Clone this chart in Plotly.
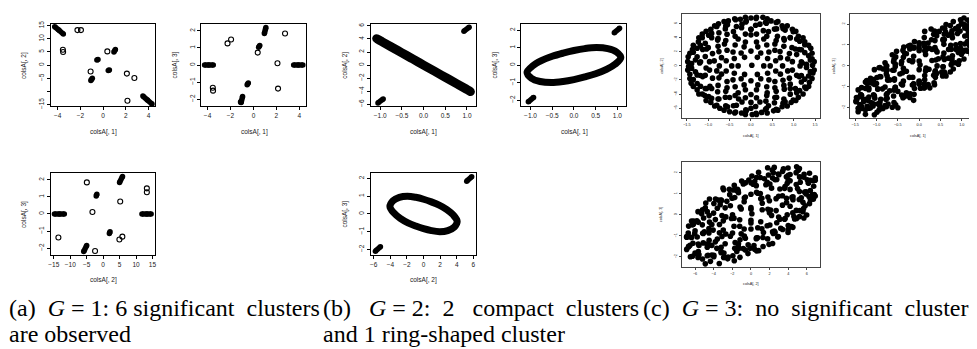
import plotly.graph_objects as go

W, H = 977, 349

# ---------------- data: panel (a)  G = 1 ----------------
# dense clusters (each list = one cluster), coordinates colsA[,1], colsA[,2], colsA[,3]
A_CL_X1 = [[-4.26, -3.9, -3.5], [3.5, 3.9, 4.3], [0.95, 1.08], [-0.95, -1.08], [0.45, 0.55], [-0.45, -0.55]]
A_CL_X2 = [[14.6, 13.3, 11.8], [-11.8, -13.3, -14.8], [5.0, 5.9], [-5.0, -5.9], [-2.1, -1.9], [2.1, 1.9]]
A_CL_X3 = [[0.0, 0.0, 0.0], [0.0, 0.0, 0.0], [1.85, 2.2], [-1.85, -2.2], [1.05, 1.15], [-1.05, -1.15]]
# isolated points
A_OUT_X1 = [-2.26, -1.95, -3.54, -3.52, 0.37, 2.75, 2.09, 2.14, -1.10]
A_OUT_X2 = [13.3, 13.3, 5.85, 4.95, 5.2, -4.95, -3.25, -13.6, -2.45]
A_OUT_X3 = [1.27, 1.50, -1.33, -1.50, 0.73, 1.85, 0.11, -1.38, -2.17]

# ---------------- data: panel (b)  G = 2 ----------------
B_CL_X1 = [[0.93, 1.05], [-0.93, -1.05]]
B_CL_X2 = [[5.2, 5.8], [-5.2, -5.8]]
B_CL_X3 = [[1.85, 2.1], [-1.85, -2.1]]
B_RING_X1 = [1.08, 0.98, 0.78, 0.52, 0.25, 0.0, -0.25, -0.5, -0.75, -0.95, -1.08,
             -0.98, -0.78, -0.52, -0.25, 0.0, 0.25, 0.5, 0.75, 0.95, 1.08]
B_RING_X2 = [-4.05, -3.68, -2.92, -1.95, -0.94, 0.0, 0.94, 1.88, 2.81, 3.56, 4.05,
             3.68, 2.92, 1.95, 0.94, 0.0, -0.94, -1.88, -2.81, -3.56, -4.05]
B_RING_X3 = [0.42, 0.75, 0.94, 1.0, 0.94, 0.83, 0.68, 0.5, 0.25, -0.05, -0.42,
             -0.75, -0.94, -1.0, -0.94, -0.83, -0.68, -0.5, -0.25, 0.05, 0.42]

# ---------------- data: panel (c)  G = 3 (point cloud, read approximately) ----------------
C_X1 = [1.44, 1.43, 1.40, 1.26, 1.11, 0.97, 0.73, 0.47, 0.28, 0.00, -0.25, -0.53, -0.76, -0.94, -1.14, -1.23, -1.37, -1.47,
        -1.46, -1.43, -1.40, -1.26, -1.08, -0.94, -0.73, -0.50, -0.22, 0.03, 0.25, 0.53, 0.73, 0.94, 1.11, 1.29, 1.37, 1.45,
        1.39, 1.35, 1.26, 1.14, 0.99, 0.80, 0.59, 0.36, 0.12, -0.12, -0.36, -0.59, -0.80, -0.99, -1.14, -1.26, -1.35, -1.39,
        -1.39, -1.35, -1.26, -1.14, -0.99, -0.80, -0.59, -0.36, -0.12, 0.12, 0.36, 0.59, 0.80, 0.99, 1.14, 1.26, 1.35, 1.39,
        1.30, 1.26, 1.18, 1.07, 0.92, 0.75, 0.55, 0.34, 0.11, -0.11, -0.34, -0.55, -0.75, -0.92, -1.07, -1.18, -1.26, -1.30,
        -1.30, -1.26, -1.18, -1.07, -0.92, -0.75, -0.55, -0.34, -0.11, 0.11, 0.34, 0.55, 0.75, 0.92, 1.07, 1.18, 1.26, 1.30,
        1.15, 1.07, 0.96, 0.78, 0.62, 0.29, 0.00, -0.22, -0.56, -0.78, -1.00, -1.07, -1.05, -1.07, -0.96, -0.78, -0.50, -0.29,
        0.00, 0.35, 0.56, 0.78, 0.92, 1.07,
        0.86, 0.68, 0.56, 0.30, 0.00, -0.30, -0.62, -0.75, -0.86, -0.80, -0.75, -0.56, -0.30, 0.00, 0.38, 0.56, 0.75, 0.86,
        0.58, 0.42, 0.16, -0.16, -0.42, -0.58, -0.58, -0.42, -0.16, 0.16, 0.42, 0.58,
        0.30, 0.15, -0.15, -0.30, -0.15, 0.15, 0.02,
        1.48, 1.43, 1.35, 1.22, 1.05, 0.85, 0.63, 0.38, 0.13, -0.13, -0.38, -0.63, -0.85, -1.05, -1.22, -1.35, -1.43, -1.48,
        -1.48, -1.43, -1.35, -1.22, -1.05, -0.85, -0.63, -0.38, -0.13, 0.13, 0.38, 0.63, 0.85, 1.05, 1.22, 1.35, 1.43, 1.48,
        1.20, 1.18, 1.13, 1.04, 0.92, 0.77, 0.60, 0.41, 0.21, 0.00, -0.21, -0.41, -0.60, -0.77, -0.92, -1.04, -1.13, -1.18,
        -1.20, -1.18, -1.13, -1.04, -0.92, -0.77, -0.60, -0.41, -0.21, 0.00, 0.21, 0.41, 0.60, 0.77, 0.92, 1.04, 1.13, 1.18,
        0.97, 0.90, 0.77, 0.59, 0.37, 0.13, -0.13, -0.37, -0.59, -0.77, -0.90, -0.97,
        -0.97, -0.90, -0.77, -0.59, -0.37, -0.13, 0.13, 0.37, 0.59, 0.77, 0.90, 0.97,
        0.74, 0.69, 0.56, 0.37, 0.13, -0.13, -0.37, -0.56, -0.69, -0.74, -0.69, -0.56, -0.37, -0.13, 0.13, 0.37, 0.56, 0.69,
        0.45, 0.39, 0.23, 0.00, -0.23, -0.39, -0.45, -0.39, -0.23, 0.00, 0.23, 0.39]
C_X2 = [0.10, 1.00, 2.50, 3.40, 4.20, 5.20, 5.70, 6.38, 6.90, 6.79, 6.60, 6.38, 5.98, 5.20, 4.50, 3.40, 2.32, 1.30,
        -0.10, -1.18, -2.45, -3.40, -4.20, -5.20, -6.00, -6.50, -6.69, -6.90, -6.60, -6.38, -5.80, -5.20, -4.45, -3.20, -2.32, -1.00,
        0.82, 1.44, 3.00, 3.49, 4.85, 5.08, 6.15, 6.04, 6.73, 6.23, 6.54, 5.65, 5.58, 4.35, 3.99, 2.50, 1.94, 0.32,
        -0.32, -1.94, -2.50, -3.99, -4.35, -5.58, -5.65, -6.54, -6.23, -6.73, -6.04, -6.15, -5.08, -4.85, -3.49, -3.00, -1.44, -0.82,
        0.23, 1.88, 2.28, 3.80, 4.01, 5.29, 5.22, 6.18, 5.77, 6.37, 5.58, 5.82, 4.69, 4.61, 3.20, 2.88, 1.28, 0.83,
        -0.83, -1.28, -2.88, -3.20, -4.61, -4.69, -5.82, -5.58, -6.37, -5.77, -6.18, -5.22, -5.29, -4.01, -3.80, -2.28, -1.88, -0.23,
        0.00, 1.60, 2.59, 3.66, 4.20, 5.00, 5.18, 5.40, 4.49, 3.66, 2.59, 1.34, -0.30, -1.34, -2.90, -3.66, -4.49, -4.70,
        -5.18, -5.00, -4.49, -3.30, -2.59, -1.34,
        1.00, 2.03, 3.11, 3.82, 4.40, 3.82, 3.11, 2.03, 0.71, -0.71, -1.70, -3.11, -3.82, -4.06, -3.82, -3.11, -2.03, -0.71,
        0.73, 1.98, 2.70, 2.70, 1.98, 0.73, -0.73, -1.98, -2.70, -2.70, -1.98, -0.73,
        0.00, 1.21, 1.21, 0.00, -1.21, -1.21, 0.10,
        0.60, 1.79, 2.93, 3.98, 4.90, 5.68, 6.28, 6.69, 6.90, 6.90, 6.69, 6.28, 5.68, 4.90, 3.98, 2.93, 1.79, 0.60,
        -0.60, -1.79, -2.93, -3.98, -4.90, -5.68, -6.28, -6.69, -6.90, -6.90, -6.69, -6.28, -5.68, -4.90, -3.98, -2.93, -1.79, -0.60,
        0.40, 0.57, 2.32, 2.40, 4.00, 3.89, 5.25, 4.86, 5.92, 5.20, 5.92, 4.86, 5.25, 3.89, 4.00, 2.40, 2.32, 0.57,
        0.40, -1.37, -1.52, -3.20, -3.20, -4.69, -4.45, -5.66, -5.12, -6.00, -5.12, -5.66, -4.45, -4.69, -3.20, -3.20, -1.52, -1.37,
        0.60, 1.74, 2.77, 3.61, 4.20, 4.51, 4.51, 4.20, 3.61, 2.77, 1.74, 0.60,
        -0.60, -1.74, -2.77, -3.61, -4.20, -4.51, -4.51, -4.20, -3.61, -2.77, -1.74, -0.60,
        0.00, 1.17, 2.21, 2.97, 3.38, 3.38, 2.97, 2.21, 1.17, 0.00, -1.17, -2.21, -2.97, -3.38, -3.38, -2.97, -2.21, -1.17,
        0.00, 1.05, 1.82, 2.10, 1.82, 1.05, 0.00, -1.05, -1.82, -2.10, -1.82, -1.05]
C_X3 = [1.85, 1.78, 2.26, 2.07, 1.92, 2.21, 1.93, 1.65, 1.76, 0.97, 0.95, 0.70, -0.01, -0.09, -0.60, -0.70, -1.37, -1.51,
        -1.60, -2.03, -2.01, -2.32, -1.92, -2.11, -1.83, -2.00, -1.51, -1.07, -1.05, -0.30, -0.29, 0.24, 0.75, 0.70, 1.22, 1.61,
        2.02, 1.72, 1.91, 2.19, 2.01, 2.12, 1.52, 1.67, 1.36, 0.87, 0.90, 0.30, 0.15, -0.56, -0.70, -0.77, -1.41, -1.47,
        -1.85, -1.95, -2.10, -2.00, -2.22, -1.90, -1.75, -1.45, -1.36, -0.87, -0.90, -0.30, -0.15, 0.56, 0.70, 1.27, 1.21, 1.47,
        1.46, 1.90, 2.13, 1.81, 1.88, 1.55, 1.81, 1.51, 1.08, 1.16, 0.60, 0.43, -0.20, -0.08, -0.65, -1.06, -1.08, -1.71,
        -1.61, -1.60, -2.03, -1.81, -1.93, -1.55, -1.86, -1.46, -1.08, -1.06, -0.45, -0.48, 0.05, 0.08, 0.75, 0.96, 1.18, 1.66,
        1.53, 1.43, 1.67, 1.35, 1.62, 1.25, 0.73, 0.81, 0.09, -0.18, -0.84, -0.85, -1.43, -1.38, -1.82, -1.60, -1.22, -1.40,
        -0.88, -0.81, -0.04, 0.48, 0.64, 1.05,
        1.01, 1.47, 1.23, 0.79, 0.83, 0.58, -0.21, -0.49, -1.10, -1.01, -1.32, -1.03, -1.29, -0.73, -0.23, -0.04, 0.79, 0.80,
        1.03, 0.67, 0.77, 0.20, 0.10, -0.62, -0.68, -0.87, -0.92, -0.10, 0.00, 0.62,
        0.26, 0.55, 0.24, -0.26, -0.55, -0.24, 0.05,
        1.78, 2.24, 1.94, 2.23, 2.29, 1.79, 1.98, 1.62, 1.65, 0.89, 0.74, 0.53, -0.15, -0.18, -0.84, -1.04, -1.15, -1.72,
        -1.68, -2.19, -2.04, -1.93, -2.34, -2.04, -1.98, -1.52, -1.65, -1.04, -0.54, -0.48, 0.15, 0.33, 0.54, 1.19, 1.40, 1.52,
        1.59, 1.39, 1.75, 2.00, 1.65, 1.50, 1.79, 1.44, 1.09, 1.11, 0.99, 0.21, 0.20, 0.00, -0.51, -0.89, -0.81, -1.14,
        -1.64, -1.49, -1.75, -1.55, -1.75, -1.95, -1.44, -1.39, -1.34, -0.76, -0.89, -0.36, -0.35, 0.15, 0.66, 0.69, 1.16, 1.14,
        1.07, 1.55, 1.68, 1.26, 1.21, 0.72, 0.86, 0.41, -0.21, -0.38, -0.52, -1.10,
        -1.12, -1.60, -1.38, -1.16, -1.46, -0.87, -0.66, -0.46, 0.31, 0.33, 0.82, 0.85,
        0.98, 0.79, 1.27, 0.88, 0.91, 0.46, -0.11, -0.03, -0.67, -0.68, -1.19, -1.02, -0.73, -0.86, -0.46, -0.29, 0.43, 0.37,
        0.34, 0.76, 0.85, 0.23, 0.26, -0.33, -0.39, -0.91, -0.55, -0.18, -0.16, 0.28]

# ---------------- tick values / labels ----------------
TICKS_X1_A = [-4, -2, 0, 2, 4]
TICKS_X2_A_VALS = [-15, -10, -5, 0, 5, 10, 15]
TICKS_X2_A_LBL_Y = ["\u221215", "", "\u22125", "0", "5", "10", "15"]
TICKS_X2_A_LBL_X = ["\u221215", "\u221210", "\u22125", "0", "5", "10", "15"]
TICKS_X3_AB = [-2, -1, 0, 1, 2]
TICKS_X1_BC = [-1.5, -1.0, -0.5, 0.0, 0.5, 1.0, 1.5]
TICKS_X2_BC = [-6, -4, -2, 0, 2, 4, 6]

NB = "\u00a0"
CAPTIONS = [
    ("(a) " + NB + "<i>G</i> = 1: 6 significant " + NB + "clusters", "are observed"),
    ("(b) " + NB * 2 + "<i>G</i> = 2: " + NB + "2 " + NB * 2 + "compact " + NB + "clusters",
     "and 1 ring-shaped cluster"),
    ("(c) " + NB + "<i>G</i> = 3: " + NB + "no " + NB + "significant " + NB + "clusters", ""),
]

# ---------------- layout helpers ----------------
SANS = "Liberation Sans, Arial, Helvetica, sans-serif"
SERIF = "Liberation Serif, Times New Roman, serif"

fig = go.Figure()
annotations = []

# subplot boxes in pixels: (left, right, top, bottom)
col_a = [(40, 145), (191, 296.5)]
col_b = [(361.5, 467), (512.5, 618)]
row_ab = [(13, 97), (164.5, 248.5)]
col_c = [(673.3, 812.7), (842.3, 977)]
row_c = [(2.7, 109), (154, 260.7)]


def add_axes(i, box, xr, yr, xt, yt, fs, tl, lc="black", xfmt=None, xtext=None, ytext=None, ymirror=True):
    L, R, T, B = box
    common = dict(showgrid=False, zeroline=False, showline=True, linecolor=lc, linewidth=1,
                  ticks="outside", ticklen=tl, tickwidth=1, tickcolor=lc,
                  tickfont=dict(family=SANS, size=fs, color="#222"), fixedrange=True)
    xa = dict(common, domain=[L / W, R / W], range=xr, anchor=f"y{i}", mirror=True, tickvals=xt)
    ya = dict(common, domain=[1 - B / H, 1 - T / H], range=yr, anchor=f"x{i}", mirror=ymirror,
              tickvals=yt, tickangle=-90)
    if xfmt:
        xa["tickformat"] = xfmt
    if xtext:
        xa["ticktext"] = xtext
    if ytext:
        ya["ticktext"] = ytext
    fig.update_layout({f"xaxis{i}": xa, f"yaxis{i}": ya})


def label(x, y, text, fs, angle=0):
    annotations.append(dict(x=x / W, y=1 - y / H, xref="paper", yref="paper", text=text, showarrow=False,
                            textangle=angle, xanchor="center", yanchor="middle",
                            font=dict(family=SANS, size=fs, color="#222")))


def blob(i, xs, ys, w):
    for cx, cy in zip(xs, ys):
        fig.add_trace(go.Scatter(x=cx, y=cy, mode="lines+markers", xaxis=f"x{i}", yaxis=f"y{i}",
                                 line=dict(color="black", width=w), marker=dict(color="black", size=w),
                                 hoverinfo="skip", showlegend=False))


def pts(i, xs, ys, size, lw, symbol="circle-open"):
    fig.add_trace(go.Scatter(x=xs, y=ys, mode="markers", xaxis=f"x{i}", yaxis=f"y{i}",
                             marker=dict(symbol=symbol, color="black", size=size, line=dict(width=lw, color="black")),
                             hoverinfo="skip", showlegend=False))


def ring(i, xs, ys, w):
    fig.add_trace(go.Scatter(x=xs, y=ys, mode="lines", xaxis=f"x{i}", yaxis=f"y{i}",
                             line=dict(color="black", width=w, shape="spline", smoothing=1.0),
                             hoverinfo="skip", showlegend=False))


# ----- panel (a) -----
b1 = (*col_a[0], *row_ab[0]); b2 = (*col_a[1], *row_ab[0]); b3 = (*col_a[0], *row_ab[1])
add_axes(1, b1, [-4.6, 4.6], [-15.7, 15.7], TICKS_X1_A, TICKS_X2_A_VALS, 6.5, 3, ytext=TICKS_X2_A_LBL_Y)
add_axes(2, b2, [-4.55, 4.6], [-2.42, 2.42], TICKS_X1_A, TICKS_X3_AB, 6.5, 3)
add_axes(3, b3, [-15.9, 15.9], [-2.42, 2.42], TICKS_X2_A_VALS, TICKS_X3_AB, 6.5, 3, xtext=TICKS_X2_A_LBL_X)
blob(1, A_CL_X1, A_CL_X2, 5.5); pts(1, A_OUT_X1, A_OUT_X2, 5, 1.1)
blob(2, A_CL_X1, A_CL_X3, 5.5); pts(2, A_OUT_X1, A_OUT_X3, 5, 1.1)
blob(3, A_CL_X2, A_CL_X3, 5.5); pts(3, A_OUT_X2, A_OUT_X3, 5, 1.1)
label(92.5, 123, "colsA[, 1]", 6.5); label(13, 55, "colsA[, 2]", 6.5, -90)
label(244, 123, "colsA[, 1]", 6.5); label(165, 55, "colsA[, 3]", 6.5, -90)
label(92.5, 273.5, "colsA[, 2]", 6.5); label(13, 206.5, "colsA[, 3]", 6.5, -90)

# ----- panel (b) -----
b4 = (*col_b[0], *row_ab[0]); b5 = (*col_b[1], *row_ab[0]); b6 = (*col_b[0], *row_ab[1])
add_axes(4, b4, [-1.21, 1.21], [-6.33, 6.33], TICKS_X1_BC[1:-1], TICKS_X2_BC, 6.5, 3, xfmt=".1f")
add_axes(5, b5, [-1.21, 1.21], [-2.36, 2.36], TICKS_X1_BC[1:-1], TICKS_X3_AB, 6.5, 3, xfmt=".1f")
add_axes(6, b6, [-6.33, 6.33], [-2.33, 2.33], TICKS_X2_BC, TICKS_X3_AB, 6.5, 3)
ring(4, B_RING_X1, B_RING_X2, 9); blob(4, B_CL_X1, B_CL_X2, 5.5)
ring(5, B_RING_X1, B_RING_X3, 7); blob(5, B_CL_X1, B_CL_X3, 5.5)
ring(6, B_RING_X2, B_RING_X3, 7); blob(6, B_CL_X2, B_CL_X3, 5.5)
label(414, 123, "colsA[, 1]", 6.5); label(335, 55, "colsA[, 2]", 6.5, -90)
label(565.5, 123, "colsA[, 1]", 6.5); label(486.5, 55, "colsA[, 3]", 6.5, -90)
label(414, 274, "colsA[, 2]", 6.5); label(335, 206.5, "colsA[, 3]", 6.5, -90)

# ----- panel (c) -----
b7 = (*col_c[0], *row_c[0]); b8 = (*col_c[1], *row_c[0]); b9 = (*col_c[0], *row_c[1])
CG = "#444"
add_axes(7, b7, [-1.625, 1.625], [-7.41, 7.41], TICKS_X1_BC, TICKS_X2_BC, 3.8, 2, lc=CG, xfmt=".1f")
add_axes(8, b8, [-1.625, 1.52], [-2.5, 2.5], TICKS_X1_BC, TICKS_X3_AB, 3.8, 2, lc=CG, xfmt=".1f", ymirror=False)
add_axes(9, b9, [-7.45, 7.45], [-2.5, 2.5], TICKS_X2_BC, TICKS_X3_AB, 3.8, 2, lc=CG)
pts(7, C_X1, C_X2, 5.6, 0, "circle")
pts(8, C_X1, C_X3, 5.6, 0, "circle")
pts(9, C_X2, C_X3, 5.6, 0, "circle")
label(743, 127.5, "colsA[, 1]", 3.8); label(653.5, 56, "colsA[, 2]", 3.8, -90)
label(911, 127.5, "colsA[, 1]", 3.8); label(826.5, 56, "colsA[, 3]", 3.8, -90)
label(743, 277.5, "colsA[, 2]", 3.8); label(653.5, 207, "colsA[, 3]", 3.8, -90)

# ----- captions -----
cap_x = [2, 323, 643]
cap_shift = [-6, -12, -10]
for (l1, l2), cx, sh in zip(CAPTIONS, cap_x, cap_shift):
    for txt, by in ((l1, 302.5), (l2, 328.5)):
        if txt:
            annotations.append(dict(x=cx / W, y=1 - by / H, xref="paper", yref="paper", text=txt,
                                    showarrow=False, xanchor="left", yanchor="middle", align="left", xshift=sh,
                                    font=dict(family=SERIF, size=24, color="black")))

fig.update_layout(width=W, height=H, margin=dict(l=0, r=0, t=0, b=0), paper_bgcolor="white",
                  plot_bgcolor="white", showlegend=False, annotations=annotations)
fig.write_html("out.html", config={"displayModeBar": False})
